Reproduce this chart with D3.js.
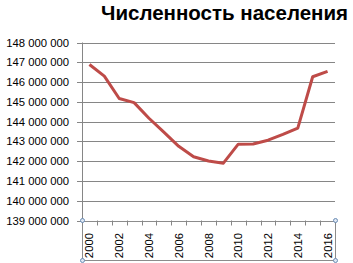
<!DOCTYPE html>
<html>
<head>
<meta charset="utf-8">
<script src="https://cdn.jsdelivr.net/npm/d3@7"></script>
<style>
  body { margin: 0; background: #fff; }
  svg { display: block; font-family: "Liberation Sans", Arial, sans-serif; }
</style>
</head>
<body>
<svg id="chart" width="353" height="263"></svg>
<script>
const svg = d3.select("#chart");
const width = 353,
  height = 263;

// data
const years = d3.range(2000, 2017);
const population = [
  146890000, 146300000, 145170000, 144960000, 144170000, 143470000,
  142750000, 142220000, 142010000, 141900000, 142860000, 142870000,
  143060000, 143350000, 143670000, 146270000, 146540000
];
const yTicks = d3.range(139000000, 148000001, 1000000);
const title = "Численность населения";

const plotLeft = 82,
  plotRight = 335,
  plotTop = 42.5,
  plotBottom = 220.5;

const x = d3.scaleBand().domain(years).range([plotLeft, plotRight]);
const y = d3.scaleLinear().domain([139000000, 148000000]).range([plotBottom, plotTop]);

const fmt = (d) => d3.format(",")(d).replace(/,/g, " ");

// title
svg
  .append("text")
  .attr("x", 348)
  .attr("y", 20)
  .attr("text-anchor", "end")
  .attr("font-size", "20.5px")
  .attr("font-weight", "bold")
  .attr("fill", "#000")
  .text(title);

// gridlines
svg
  .selectAll(".grid")
  .data(yTicks)
  .enter()
  .append("line")
  .attr("x1", plotLeft - 5)
  .attr("x2", plotRight)
  .attr("y1", (d) => Math.round(y(d)) + 0.5)
  .attr("y2", (d) => Math.round(y(d)) + 0.5)
  .attr("stroke", "#868686")
  .attr("stroke-width", 1);

// y labels
svg
  .selectAll(".ylab")
  .data(yTicks)
  .enter()
  .append("text")
  .attr("x", 69)
  .attr("y", (d) => y(d) + 4)
  .attr("text-anchor", "end")
  .attr("font-size", "11.3px")
  .attr("fill", "#000")
  .text(fmt);

// y axis line
svg
  .append("line")
  .attr("x1", plotLeft + 0.5)
  .attr("x2", plotLeft + 0.5)
  .attr("y1", plotTop)
  .attr("y2", plotBottom)
  .attr("stroke", "#868686");

// x axis selection box
const boxBottom = 260;
svg
  .append("rect")
  .attr("x", plotLeft + 0.5)
  .attr("y", Math.round(plotBottom) + 0.5)
  .attr("width", plotRight - plotLeft)
  .attr("height", boxBottom - Math.round(plotBottom))
  .attr("fill", "none")
  .attr("stroke", "#8c8c8c");

// x tick marks at category boundaries
const bounds = years.map((d) => x(d)).concat([plotRight]);
svg
  .selectAll(".xtick")
  .data(bounds)
  .enter()
  .append("line")
  .attr("x1", (d) => Math.round(d) + 0.5)
  .attr("x2", (d) => Math.round(d) + 0.5)
  .attr("y1", plotBottom)
  .attr("y2", plotBottom + 5)
  .attr("stroke", "#868686");

// x labels
svg
  .selectAll(".xlab")
  .data(years.filter((d, i) => i % 2 === 0))
  .enter()
  .append("text")
  .attr(
    "transform",
    (d) => `translate(${x(d) + x.bandwidth() / 2 + 4},233) rotate(-90)`
  )
  .attr("text-anchor", "end")
  .attr("font-size", "11.3px")
  .attr("fill", "#000")
  .text((d) => d);

// handles
const corners = [
  [plotLeft + 0.5, plotBottom],
  [plotRight + 0.5, plotBottom],
  [plotLeft + 0.5, boxBottom + 0.5],
  [plotRight + 0.5, boxBottom + 0.5]
];
svg
  .selectAll(".handle")
  .data(corners)
  .enter()
  .append("circle")
  .attr("cx", (d) => d[0])
  .attr("cy", (d) => d[1])
  .attr("r", 2)
  .attr("fill", "#dfe8f3")
  .attr("stroke", "#6b8cb5")
  .attr("stroke-width", 1);

// line
const line = d3
  .line()
  .x((d, i) => x(years[i]) + x.bandwidth() / 2)
  .y((d) => y(d));

svg
  .append("path")
  .datum(population)
  .attr("d", line)
  .attr("fill", "none")
  .attr("stroke", "#be4b48")
  .attr("stroke-width", 3)
  .attr("stroke-linejoin", "round");
</script>
</body>
</html>
